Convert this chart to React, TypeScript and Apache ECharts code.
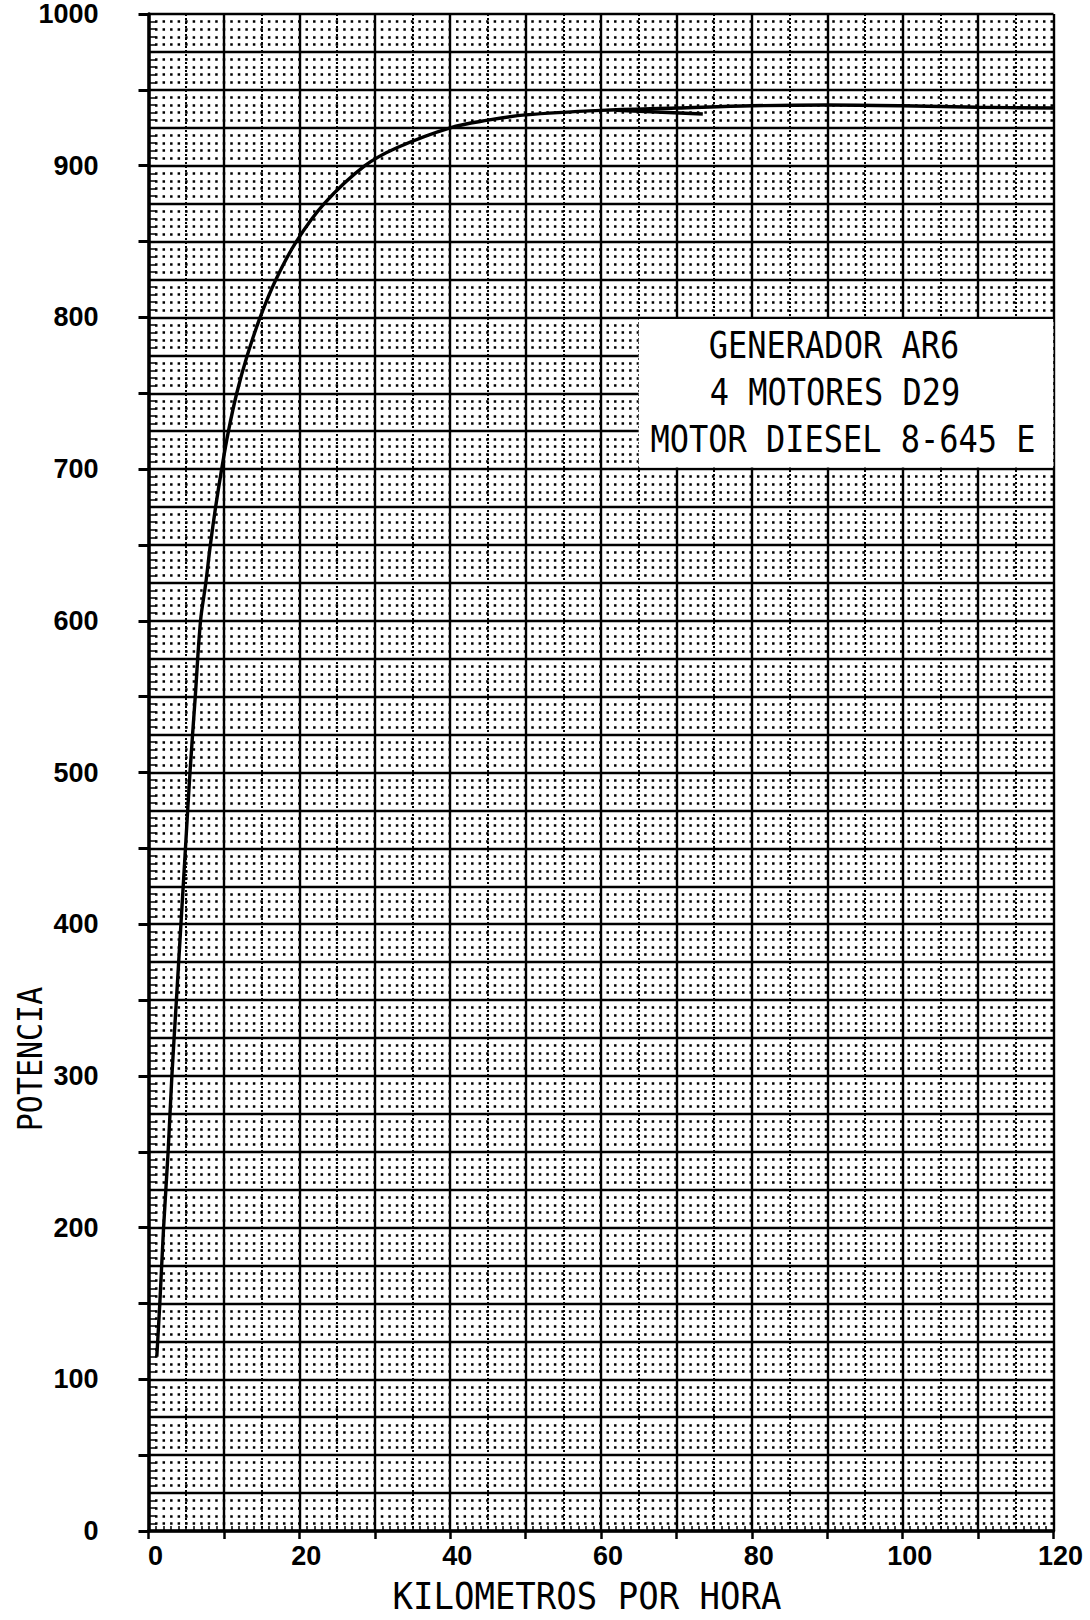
import React, { useEffect, useRef } from 'react';
import * as echarts from 'echarts';

// Curve (km/h vs potencia)
const speedKmh = [1.1, 1.5, 2.0, 2.6, 3.1, 3.7, 4.3, 4.9, 5.5, 6.2, 6.9, 7.6, 8.2, 8.9, 9.7, 10.6, 11.7, 13.1, 14.8, 16.9, 19.6, 23.3, 28.7, 33, 40, 45, 50, 60, 70, 80, 90, 100, 110, 120];
const potencia = [115, 150, 200, 250, 300, 350, 400, 450, 500, 550, 600, 625, 650, 675, 700, 725, 750, 775, 800, 825, 850, 875, 900, 912, 925, 930, 933.5, 936.5, 938, 939.5, 940, 939.5, 938.5, 938];

// short pen stroke under the curve
const strokeX = [62, 73.5];
const strokeY = [936.5, 934];

// white label box (data region)
const boxX = [65, 120];
const boxY = [700, 800];

const boxLines = ['GENERADOR AR6', '4 MOTORES D29', 'MOTOR DIESEL 8-645 E'];
const xAxisTitle = 'KILOMETROS POR HORA';
const yAxisTitle = 'POTENCIA';

const X_MIN = 0, X_MAX = 120, X_STEP = 10, X_LABEL_STEP = 20;
const Y_MIN = 0, Y_MAX = 1000, Y_GRID_STEP = 25, Y_TICK_STEP = 50, Y_LABEL_STEP = 100;

const BLACK = '#000';
const labelFont = { color: BLACK, fontSize: 27, fontWeight: 'bold' as const, fontFamily: 'Liberation Sans' };
const monoFont = 'DejaVu Sans Mono';

function buildOption() {
  return {
    animation: false,
    backgroundColor: '#fff',
    grid: { left: 148.5, right: 36.5, top: 14, bottom: 89, containLabel: false },
    xAxis: [
      {
        type: 'value', min: X_MIN, max: X_MAX, interval: X_STEP, position: 'bottom',
        axisLine: { show: true, onZero: false, lineStyle: { color: BLACK, width: 3.5 } },
        axisTick: { show: true, length: 8, lineStyle: { color: BLACK, width: 2.5 } },
        axisLabel: {
          ...labelFont, margin: 11, padding: [0, 0, 0, 14],
          formatter: (v: number) => (v % X_LABEL_STEP === 0 ? String(v) : ''),
        },
        splitLine: { show: true, lineStyle: { color: BLACK, width: 2.4 } },
        minorTick: { show: false, splitNumber: 2 },
        minorSplitLine: { show: true, lineStyle: { color: BLACK, width: 2, type: [2, 2] } },
      },
      {
        type: 'value', min: X_MIN, max: X_MAX, interval: X_STEP, position: 'bottom',
        axisLine: { show: false }, axisLabel: { show: false }, splitLine: { show: false },
        axisTick: { show: false, inside: true },
        minorTick: { show: true, splitNumber: 10, length: 5, lineStyle: { color: BLACK, width: 1.5 } },
      },
    ],
    yAxis: [
      {
        type: 'value', min: Y_MIN, max: Y_MAX, interval: Y_GRID_STEP, position: 'left',
        axisLine: { show: true, onZero: false, lineStyle: { color: BLACK, width: 3.5 } },
        axisTick: { show: false, inside: true },
        axisLabel: { show: false },
        splitLine: { show: true, lineStyle: { color: BLACK, width: 2.4 } },
        minorTick: { show: true, splitNumber: 5, length: 8, lineStyle: { color: BLACK, width: 1.5 } },
        minorSplitLine: { show: true, lineStyle: { color: BLACK, width: 2.5, type: [2.5, 5.025], dashOffset: 1.25 } },
      },
      {
        type: 'value', min: Y_MIN, max: Y_MAX, interval: Y_TICK_STEP, position: 'left',
        axisLine: { show: false }, splitLine: { show: false },
        axisTick: { show: true, length: 10, lineStyle: { color: BLACK, width: 3 } },
        axisLabel: {
          ...labelFont, margin: 50, padding: [18, 0, 0, 0],
          formatter: (v: number) => (v % Y_LABEL_STEP === 0 ? String(v) : ''),
        },
      },
    ],
    series: [
      {
        type: 'line', name: 'Potencia', xAxisIndex: 0, yAxisIndex: 0,
        data: speedKmh.map((x, i) => [x, potencia[i]]),
        symbol: 'none', showSymbol: false, smooth: 0.35, z: 5,
        lineStyle: { color: BLACK, width: 3.4 },
        markArea: {
          silent: true, itemStyle: { color: '#fff', borderWidth: 0 },
          data: [[{ coord: [boxX[0], boxY[0] + 1] }, { coord: [boxX[1], boxY[1] - 1] }]],
        },
        markLine: {
          silent: true, symbol: 'none', label: { show: false },
          lineStyle: { color: BLACK, width: 1.5, type: [3, 4] },
          data: [[{ coord: [boxX[1], boxY[0]] }, { coord: [boxX[1], boxY[1]] }]],
        },
      },
      {
        type: 'line', name: 'Trazo', xAxisIndex: 0, yAxisIndex: 0,
        data: strokeX.map((x, i) => [x, strokeY[i]]),
        symbol: 'none', showSymbol: false, z: 5,
        lineStyle: { color: BLACK, width: 3.5 },
      },
    ],
    graphic: [
      { type: 'text', x: 834, y: 345, scaleY: 1.15, z: 100, style: { text: boxLines[0], fontFamily: monoFont, fontSize: 32, fill: BLACK, align: 'center', verticalAlign: 'middle' } },
      { type: 'text', x: 835, y: 392, scaleY: 1.15, z: 100, style: { text: boxLines[1], fontFamily: monoFont, fontSize: 32, fill: BLACK, align: 'center', verticalAlign: 'middle' } },
      { type: 'text', x: 843, y: 439, scaleY: 1.15, z: 100, style: { text: boxLines[2], fontFamily: monoFont, fontSize: 32, fill: BLACK, align: 'center', verticalAlign: 'middle' } },
      { type: 'text', x: 587, y: 1596, scaleY: 1.1, z: 100, style: { text: xAxisTitle, fontFamily: monoFont, fontSize: 34, fill: BLACK, align: 'center', verticalAlign: 'middle' } },
      { type: 'text', x: 30, y: 1059, rotation: Math.PI / 2, scaleY: 1.1, z: 100, style: { text: yAxisTitle, fontFamily: monoFont, fontSize: 30, fill: BLACK, align: 'center', verticalAlign: 'middle' } },
    ],
  };
}

export default function App() {
  const ref = useRef<HTMLDivElement>(null);
  useEffect(() => {
    if (!ref.current) return;
    const chart = echarts.init(ref.current, undefined, { renderer: 'svg' });
    chart.setOption(buildOption() as any);
    return () => chart.dispose();
  }, []);
  return (
    <div
      ref={ref}
      style={{ position: 'absolute', left: 0, top: 0, width: 1090, height: 1620, background: '#fff' }}
    />
  );
}
